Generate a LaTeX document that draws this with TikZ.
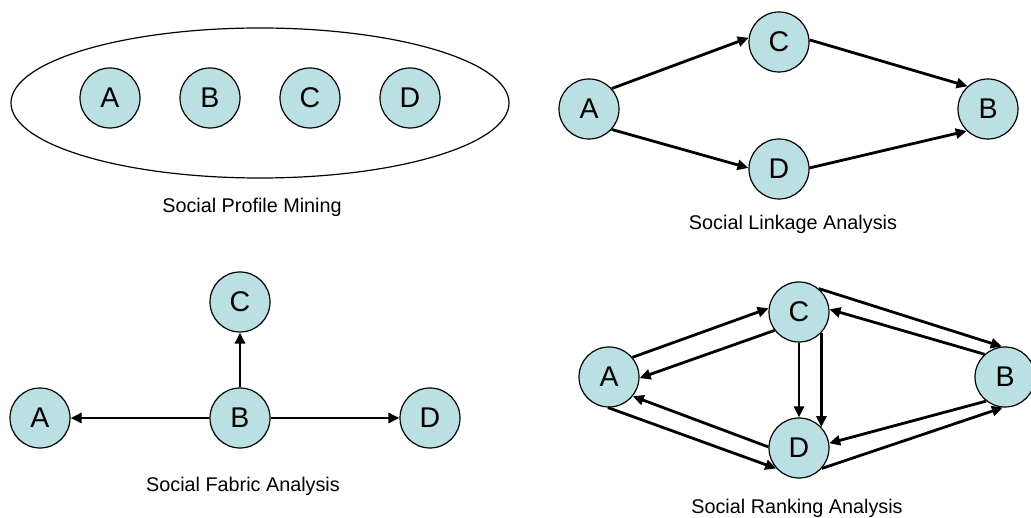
\documentclass[tikz,border=0pt]{standalone}
\usepackage{fontspec}
\setmainfont{Liberation Sans}
\usetikzlibrary{arrows.meta,shapes.geometric}
\definecolor{nodefill}{RGB}{187,224,227}
\begin{document}
\begin{tikzpicture}[x=1pt,y=-1pt,
 vtx/.style={circle,draw=black,line width=1.2pt,fill=nodefill,minimum size=60pt,inner sep=0pt,font=\fontsize{28.5}{28.5}\selectfont},
 lbl/.style={font=\fontsize{19.8}{19.8}\selectfont,inner sep=0pt},
 edge/.style={line width=2.8pt,-{Triangle[length=11pt,width=10pt]}}]
\path[use as bounding box] (0,0) rectangle (1031,518);
% Social Profile Mining
\node[ellipse,draw=black,line width=1.2pt,minimum width=498pt,minimum height=150pt,inner sep=0pt] (grp) at (260,103) {};
\node[vtx] (pA) at (110,98) {A};
\node[vtx] (pB) at (210,98) {B};
\node[vtx] (pC) at (310,98) {C};
\node[vtx] (pD) at (410,98) {D};
\node[lbl] (t1) at (252,207) {Social Profile Mining};
% Social Linkage Analysis
\node[vtx] (lA) at (589,109) {A};
\node[vtx] (lC) at (779,42) {C};
\node[vtx] (lD) at (779,169) {D};
\node[vtx] (lB) at (988,109) {B};
\draw[edge] (lA.42) -- (lC.172);
\draw[edge] (lC.4) -- (lB.132);
\draw[edge] (lA.-42) -- (lD.178);
\draw[edge] (lD.2) -- (lB.226);
\node[lbl] (t2) at (793,224) {Social Linkage Analysis};
% Social Fabric Analysis
\node[vtx] (fC) at (240,302) {C};
\node[vtx] (fB) at (240,418) {B};
\node[vtx] (fA) at (40,418) {A};
\node[vtx] (fD) at (430,418) {D};
\draw[edge] (fB) -- (fC);
\draw[edge] (fB) -- (fA);
\draw[edge] (fB) -- (fD);
\node[lbl] (t3) at (243,486) {Social Fabric Analysis};
% Social Ranking Analysis
\node[vtx] (rA) at (609,377) {A};
\node[vtx] (rC) at (799,312) {C};
\node[vtx] (rB) at (1005,377) {B};
\node[vtx] (rD) at (799,448) {D};
\draw[edge] (rA.40) -- (rC.173);
\draw[edge] (rC.217) -- (rA.-2);
\draw[edge] (rC.50) -- (rB.96);
\draw[edge] (rB.132) -- (rC.5);
\draw[edge] (rC.270) -- (rD.90);
\draw[edge] (rC.-43) -- (rD.43);
\draw[edge] (rD.178) -- (rA.-39);
\draw[edge] (rA.268) -- (rD.222);
\draw[edge] (rB.232) -- (rD.9);
\draw[edge] (rD.-42) -- (rB.266);
\node[lbl] (t4) at (797,508) {Social Ranking Analysis};
\end{tikzpicture}
\end{document}
